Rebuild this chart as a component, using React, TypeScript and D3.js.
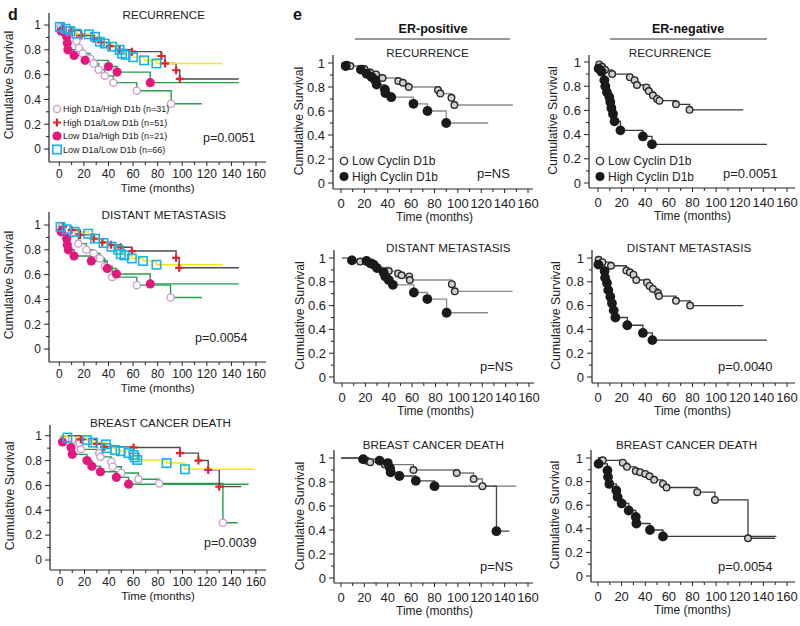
import React from 'react';
import * as d3 from 'd3';

// ---------- text data ----------
const timeTicks = [0, 20, 40, 60, 80, 100, 120, 140, 160];
const timeMinor = [10, 30, 50, 70, 90, 110, 130, 150];
const survTicks = [0, 0.2, 0.4, 0.6, 0.8, 1];
const survTickLabels = ['0', '0.2', '0.4', '0.6', '0.8', '1'];
const survMinor = [0.1, 0.3, 0.5, 0.7, 0.9];
const endpointTitles = ['RECURRENCE', 'DISTANT METASTASIS', 'BREAST CANCER DEATH'];
const dGroups = ['High D1a/High D1b (n=31)', 'High D1a/Low D1b (n=51)', 'Low D1a/High D1b (n=21)', 'Low D1a/Low D1b (n=66)'];
const eGroups = ['Low Cyclin D1b', 'High Cyclin D1b'];
const erHeaders = ['ER-positive', 'ER-negative'];
const pValuesD = ['p=0.0051', 'p=0.0054', 'p=0.0039'];
const pValuesErPos = ['p=NS', 'p=NS', 'p=NS'];
const pValuesErNeg = ['p=0.0051', 'p=0.0040', 'p=0.0054'];

// ---------- Kaplan-Meier steps: [time (months), survival after step] ----------
// panel d — recurrence
const dRecHighHigh = [[1.5, 0.985], [6, 0.96], [14, 0.87], [16, 0.815], [19, 0.77], [25, 0.73], [28, 0.69], [32, 0.64], [37, 0.59], [44, 0.535], [63, 0.47], [91, 0.365]];
const dRecHighLow = [[3, 0.98], [10, 0.955], [18, 0.915], [28, 0.89], [34, 0.86], [41, 0.83], [49, 0.8], [59, 0.785], [83, 0.75], [86, 0.69], [95, 0.635], [98, 0.565]];
const dRecLowHigh = [[1.5, 0.95], [6, 0.905], [6.5, 0.855], [7, 0.8], [12, 0.755], [21, 0.715], [40, 0.665], [47, 0.62], [74, 0.535]];
const dRecLowLow = [[0.5, 0.985], [5, 0.97], [9, 0.95], [14, 0.93], [24, 0.925], [29, 0.905], [33, 0.865], [37, 0.85], [43, 0.825], [49, 0.8], [51, 0.77], [54, 0.76], [60, 0.74], [69, 0.715], [79, 0.69]];
const dRecEnds = [116, 146, 146, 133];
// panel d — distant metastasis
const dDmHighHigh = [[2, 0.985], [6, 0.97], [10, 0.93], [15.5, 0.85], [22, 0.8], [28, 0.77], [33, 0.73], [37, 0.665], [43, 0.58], [63, 0.515], [90.5, 0.415]];
const dDmHighLow = [[3, 0.985], [10, 0.96], [17, 0.92], [28, 0.89], [35, 0.86], [42, 0.84], [50, 0.82], [59, 0.79], [95, 0.735], [97.5, 0.655]];
const dDmLowHigh = [[1.5, 0.945], [6, 0.89], [6.5, 0.84], [7.3, 0.8], [12, 0.75], [26, 0.71], [39, 0.65], [46.5, 0.605], [74, 0.525]];
const dDmLowLow = [[1, 0.985], [6, 0.965], [12.5, 0.945], [23.5, 0.93], [29, 0.89], [36, 0.855], [42.5, 0.825], [48, 0.8], [50, 0.765], [53, 0.755], [59, 0.73], [68, 0.71], [79, 0.68]];
const dDmEnds = [116, 146, 146, 133];
// panel d — breast cancer death
const dBcdHighHigh = [[10, 0.97], [16, 0.94], [17, 0.89], [32, 0.86], [33, 0.83], [42, 0.79], [43, 0.75], [50, 0.7], [64, 0.65], [81, 0.615], [133, 0.3]];
const dBcdHighLow = [[17, 0.97], [30, 0.935], [36, 0.91], [60, 0.905], [98, 0.86], [113, 0.8], [121, 0.725], [130, 0.59]];
const dBcdLowHigh = [[2, 0.95], [9, 0.905], [10, 0.85], [22, 0.8], [26, 0.755], [33, 0.71], [46, 0.665], [56, 0.61]];
const dBcdLowLow = [[6, 0.985], [22, 0.965], [27, 0.945], [37.5, 0.93], [38, 0.9], [45, 0.885], [49.5, 0.875], [56, 0.86], [60, 0.845], [61, 0.825], [63, 0.805], [87, 0.78], [102, 0.73]];
const dBcdEnds = [145, 148, 154, 159];

// panel e — ER-positive
const posRecLow = [[5, 0.985], [8, 0.975], [20, 0.95], [25, 0.92], [30, 0.905], [35.5, 0.875], [49, 0.85], [53, 0.835], [58, 0.8], [83, 0.775], [85, 0.745], [94.5, 0.71], [97, 0.65]];
const posRecHigh = [[4, 0.975], [17, 0.945], [22, 0.91], [26, 0.885], [29, 0.86], [30.5, 0.82], [37.5, 0.78], [38, 0.75], [43, 0.715], [62, 0.66], [74, 0.6], [90, 0.5]];
const posRecEnds = [147, 126];
const posDmLow = [[8.5, 0.985], [15.5, 0.97], [24, 0.95], [30, 0.92], [40, 0.89], [48, 0.87], [51, 0.855], [57.5, 0.845], [58, 0.815], [94, 0.78], [96.5, 0.72]];
const posDmHigh = [[8.5, 0.98], [21, 0.975], [25, 0.955], [27, 0.945], [30, 0.915], [35.5, 0.88], [37, 0.845], [40, 0.815], [43.5, 0.775], [61.5, 0.71], [73, 0.655], [89.5, 0.54]];
const posDmEnds = [146, 125];
const posBcdLow = [[18.5, 0.99], [22, 0.978], [25, 0.965], [37.5, 0.945], [62, 0.9], [99, 0.875], [113.5, 0.825], [121, 0.765]];
const posBcdHigh = [[19, 0.99], [33, 0.978], [40, 0.958], [42, 0.915], [42.5, 0.88], [50, 0.85], [64, 0.81], [80, 0.765], [133, 0.39]];
const posBcdEnds = [150, 144];

// panel e — ER-negative
const negRecLow = [[1, 0.98], [3.5, 0.96], [6, 0.935], [12, 0.9], [27, 0.875], [31, 0.85], [33, 0.81], [41, 0.79], [43, 0.76], [46.5, 0.725], [50, 0.695], [52, 0.68], [66, 0.65], [77.5, 0.605]];
const negRecHigh = [[0.5, 0.945], [3, 0.92], [5.4, 0.85], [6.2, 0.8], [7.6, 0.75], [9.6, 0.71], [10.4, 0.67], [11.3, 0.62], [12.7, 0.57], [14, 0.51], [19, 0.435], [38, 0.385], [45.7, 0.32]];
const negRecEnds = [123, 143];
const negDmLow = [[0.5, 0.985], [3.7, 0.965], [11, 0.935], [24, 0.895], [27, 0.88], [30, 0.86], [32.4, 0.815], [41.5, 0.795], [43.7, 0.765], [46.5, 0.74], [50.8, 0.705], [51.6, 0.68], [66, 0.64], [78, 0.6]];
const negDmHigh = [[0.3, 0.945], [5.6, 0.89], [6, 0.835], [7.6, 0.79], [8.7, 0.73], [10.4, 0.675], [11.8, 0.62], [13.3, 0.56], [14.7, 0.5], [24.8, 0.435], [38, 0.37], [46, 0.31]];
const negDmEnds = [123, 143];
const negBcdLow = [[4, 0.98], [21, 0.96], [24.5, 0.925], [32, 0.89], [35.7, 0.88], [40, 0.865], [43.6, 0.845], [47.5, 0.815], [55, 0.78], [58, 0.75], [84, 0.71], [99, 0.645], [127, 0.32]];
const negBcdHigh = [[0.5, 0.95], [8, 0.895], [8.5, 0.84], [9.6, 0.78], [15.5, 0.725], [16.6, 0.67], [20, 0.615], [26, 0.555], [32, 0.5], [32.5, 0.445], [44, 0.39], [55, 0.335]];
const negBcdEnds = [150, 151];

// ---------- styles ----------
const FONT = '"Liberation Sans", Arial, Helvetica, sans-serif';
const C = {
  green: '#22a04b', gray: '#4d4d4d', yellow: '#f4e81a', red: '#e3232a',
  magenta: '#e3187f', cyan: '#1ab2e6', pink: '#c99ac9', axis: '#222',
};

type Curve = { steps: number[][]; end: number; line: string; marker: string };

const dStyles = [
  { line: C.green, marker: 'ringPink' },
  { line: C.gray, marker: 'plus' },
  { line: C.green, marker: 'dot' },
  { line: C.yellow, marker: 'square' },
];

function dCurves(sets: number[][][], ends: number[]): Curve[] {
  return sets.map((s, i) => ({ steps: s, end: ends[i], ...dStyles[i] }));
}
function eCurves(sets: number[][][], ends: number[], lineCol: string[]): Curve[] {
  return [
    { steps: sets[0], end: ends[0], line: lineCol[0], marker: 'ringGray' },
    { steps: sets[1], end: ends[1], line: lineCol[1], marker: 'dotBlack' },
  ];
}

const posLines = ['#8a8a8a', '#8a8a8a'];
const posBcdLines = ['#777', '#444'];
const negLines = ['#3a3a3a', '#3a3a3a'];

const dCol = { kind: 'd', tickFont: 12, tickDy: 15.5, timeDy: 30, ylabDx: -36 };
const ePosCol = { kind: 'e', tickFont: 13, tickDy: 18.5, timeDy: 32, ylabDx: -30 };
const eNegCol = { kind: 'e', tickFont: 13, tickDy: 18.5, timeDy: 32, ylabDx: -32 };

const panels = [
  { ...dCol, x0: 59.3, x160: 256, y1: 25, y0: 149, axL: 49, axB: 162, axT: 13, axR: 266, title: endpointTitles[0], titleT: 85, titleY: 19, p: pValuesD[0], pX: 203, pY: 142, legend: 'd',
    curves: dCurves([dRecHighHigh, dRecHighLow, dRecLowHigh, dRecLowLow], dRecEnds) },
  { ...dCol, x0: 59.3, x160: 256, y1: 225, y0: 349, axL: 49, axB: 362, axT: 212, axR: 266, title: endpointTitles[1], titleT: 85, titleY: 219, p: pValuesD[1], pX: 195, pY: 342, legend: '',
    curves: dCurves([dDmHighHigh, dDmHighLow, dDmLowHigh, dDmLowLow], dDmEnds) },
  { ...dCol, x0: 60, x160: 256, y1: 435.7, y0: 560, axL: 50, axB: 570, axT: 425, axR: 266, title: endpointTitles[2], titleT: 82, titleY: 427, p: pValuesD[2], pX: 204, pY: 547, legend: '',
    curves: dCurves([dBcdHighHigh, dBcdHighLow, dBcdLowHigh, dBcdLowLow], dBcdEnds) },
  { ...ePosCol, x0: 341, x160: 528, y1: 63, y0: 183, axL: 333, axB: 189, axT: 55, axR: 533, title: endpointTitles[0], titleT: 74, titleY: 57, p: pValuesErPos[0], pX: 477, pY: 178, legend: 'e',
    curves: eCurves([posRecLow, posRecHigh], posRecEnds, posLines) },
  { ...ePosCol, x0: 342, x160: 529, y1: 258, y0: 377, axL: 334, axB: 383, axT: 250, axR: 534, title: endpointTitles[1], titleT: 91, titleY: 252, p: pValuesErPos[1], pX: 480, pY: 371, legend: '',
    curves: eCurves([posDmLow, posDmHigh], posDmEnds, posLines) },
  { ...ePosCol, x0: 341, x160: 528, y1: 458, y0: 578, axL: 334, axB: 583, axT: 450, axR: 533, title: endpointTitles[2], titleT: 79, titleY: 449, p: pValuesErPos[2], pX: 480, pY: 571, legend: '',
    curves: eCurves([posBcdLow, posBcdHigh], posBcdEnds, posBcdLines) },
  { ...eNegCol, x0: 598, x160: 787, y1: 62, y0: 183, axL: 589, axB: 188, axT: 55, axR: 795, title: endpointTitles[0], titleT: 61, titleY: 57, p: pValuesErNeg[0], pX: 723, pY: 178, legend: 'e',
    curves: eCurves([negRecLow, negRecHigh], negRecEnds, negLines) },
  { ...eNegCol, x0: 598, x160: 787, y1: 258, y0: 377, axL: 592, axB: 383, axT: 250, axR: 795, title: endpointTitles[1], titleT: 77, titleY: 252, p: pValuesErNeg[1], pX: 718, pY: 371, legend: '',
    curves: eCurves([negDmLow, negDmHigh], negDmEnds, negLines) },
  { ...eNegCol, x0: 598, x160: 787, y1: 458, y0: 576, axL: 591, axB: 582, axT: 450, axR: 795, title: endpointTitles[2], titleT: 75, titleY: 449, p: pValuesErNeg[2], pX: 718, pY: 571, legend: '',
    curves: eCurves([negBcdLow, negBcdHigh], negBcdEnds, negLines) },
];

function Marker({ kind, x, y, legend }: { kind: string; x: number; y: number; legend?: boolean }) {
  switch (kind) {
    case 'ringPink':
      return <circle cx={x} cy={y} r={3.6} fill="#fff" stroke={C.pink} strokeWidth={1.3} />;
    case 'plus':
      return <path d={`M${x - 4},${y}H${x + 4}M${x},${y - 4}V${y + 4}`} stroke={C.red} strokeWidth={2.2} />;
    case 'dot':
      return <circle cx={x} cy={y} r={4.6} fill={C.magenta} />;
    case 'square':
      return <rect x={x - 4.2} y={y - 4.2} width={8.4} height={8.4} fill="none" stroke={C.cyan} strokeWidth={1.6} />;
    case 'ringGray':
      return <circle cx={x} cy={y} r={legend ? 3.6 : 3.3} fill={legend ? '#fff' : '#cfcfcf'} stroke="#2a2a2a" strokeWidth={1.4} />;
    case 'dotBlack':
      return <circle cx={x} cy={y} r={legend ? 4.6 : 4.9} fill="#1a1a1a" />;
    default:
      return null;
  }
}

function Panel({ p }: { p: any }) {
  const x = d3.scaleLinear().domain([0, 160]).range([p.x0, p.x160]);
  const y = d3.scaleLinear().domain([0, 1]).range([p.y0, p.y1]);
  const line = d3.line<number[]>().x(d => x(d[0])).y(d => y(d[1])).curve(d3.curveStepAfter);
  const curves: Curve[] = p.curves;
  const lw = p.kind === 'd' ? 1.4 : 1.3;
  const midX = (p.x0 + p.x160) / 2;
  const midY = (p.y0 + p.y1) / 2 - 2;
  return (
    <g fontFamily={FONT} fill="#222">
      <line x1={p.axL} x2={p.axL} y1={p.axT} y2={p.axB} stroke={C.axis} strokeWidth={1.2} />
      <line x1={p.axL} x2={p.axR} y1={p.axB} y2={p.axB} stroke={C.axis} strokeWidth={1.2} />
      {survTicks.map((t, i) => (
        <g key={'ys' + i}>
          <line x1={p.axL - 5} x2={p.axL} y1={y(t)} y2={y(t)} stroke={C.axis} strokeWidth={1} />
          <text x={p.axL - 8} y={y(t) + p.tickFont * 0.36} fontSize={p.tickFont} textAnchor="end">{survTickLabels[i]}</text>
        </g>
      ))}
      {survMinor.map((t, i) => (
        <line key={'ym' + i} x1={p.axL - 3} x2={p.axL} y1={y(t)} y2={y(t)} stroke={C.axis} strokeWidth={1} />
      ))}
      {timeTicks.map((t, i) => (
        <g key={'xs' + i}>
          <line x1={x(t)} x2={x(t)} y1={p.axB} y2={p.axB + 4} stroke={C.axis} strokeWidth={1} />
          <text x={x(t)} y={p.axB + p.tickDy} fontSize={p.tickFont} textAnchor="middle">{t}</text>
        </g>
      ))}
      {timeMinor.map((t, i) => (
        <line key={'xm' + i} x1={x(t)} x2={x(t)} y1={p.axB} y2={p.axB + 3} stroke={C.axis} strokeWidth={1} />
      ))}
      <text x={midX} y={p.axB + p.timeDy} fontSize={p.kind === 'd' ? 11.5 : 12} textAnchor="middle">Time (months)</text>
      <text transform={`translate(${p.axL + p.ylabDx},${midY}) rotate(-90)`} fontSize={12.3} textAnchor="middle">Cumulative Survival</text>
      <text x={x(p.titleT)} y={p.titleY} fontSize={11.7} textAnchor="middle">{p.title}</text>
      <text x={p.pX} y={p.pY} fontSize={p.kind === 'd' ? 12.5 : 13}>{p.p}</text>
      {curves.map((c, i) => {
        const last = c.steps[c.steps.length - 1][1];
        const pts = [[0, 1], ...c.steps, [c.end, last]];
        return <path key={'c' + i} d={line(pts) || ''} fill="none" stroke={c.line} strokeWidth={lw} />;
      })}
      {curves.map((c, i) => (
        <g key={'m' + i}>
          {c.steps.map((s, j) => <Marker key={j} kind={c.marker} x={x(s[0])} y={y(s[1])} />)}
        </g>
      ))}
      {p.legend === 'd' && dGroups.map((g, i) => (
        <g key={'lg' + i}>
          <Marker kind={dStyles[i].marker} x={57} y={109 + i * 13.5} />
          <text x={63} y={109 + i * 13.5 + 3.3} fontSize={9}>{g}</text>
        </g>
      ))}
      {p.legend === 'e' && eGroups.map((g, i) => (
        <g key={'le' + i}>
          <Marker kind={i === 0 ? 'ringGray' : 'dotBlack'} x={p.axL + 11} y={161 + i * 15.5} legend />
          <text x={p.axL + 19} y={161 + i * 15.5 + 4.3} fontSize={12}>{g}</text>
        </g>
      ))}
    </g>
  );
}

export default function App() {
  return (
    <svg width={800} height={626} viewBox="0 0 800 626" style={{ position: 'absolute', left: 0, top: 0, background: '#fff' }}>
      <rect width={800} height={626} fill="#fff" />
      <text x={8} y={20} fontFamily={FONT} fontWeight="bold" fontSize={16} fill="#111">d</text>
      <text x={293} y={20} fontFamily={FONT} fontWeight="bold" fontSize={16} fill="#111">e</text>
      <text x={433} y={33} fontFamily={FONT} fontWeight="bold" fontSize={12.5} textAnchor="middle" fill="#111">{erHeaders[0]}</text>
      <line x1={355} x2={510} y1={39} y2={39} stroke="#333" strokeWidth={1} />
      <text x={688} y={33} fontFamily={FONT} fontWeight="bold" fontSize={12.5} textAnchor="middle" fill="#111">{erHeaders[1]}</text>
      <line x1={610} x2={767} y1={39} y2={39} stroke="#333" strokeWidth={1} />
      {panels.map((p, i) => <Panel key={i} p={p} />)}
    </svg>
  );
}
